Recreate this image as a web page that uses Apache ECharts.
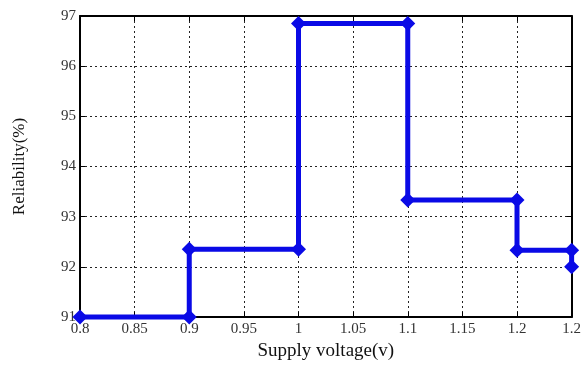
<!DOCTYPE html>
<html><head><meta charset="utf-8">
<script src="https://cdn.jsdelivr.net/npm/echarts@6/dist/echarts.min.js"></script>
<style>html,body{margin:0;padding:0;background:#fff}#c{width:584px;height:366px}</style>
</head><body><div id="c"></div>
<script>
const voltage = [0.8, 0.9, 0.9, 1.0, 1.0, 1.1, 1.1, 1.2, 1.2, 1.25, 1.25];
const reliability = [91, 91, 92.35, 92.35, 96.85, 96.85, 93.33, 93.33, 92.33, 92.33, 92.0];
const xTickLabels = ["0.8","0.85","0.9","0.95","1","1.05","1.1","1.15","1.2","1.2"];
const yTickLabels = ["91","92","93","94","95","96","97"];

const font = "Liberation Serif";
const chart = echarts.init(document.getElementById('c'));
const data = voltage.map((v, i) => [v, reliability[i]]);
const gridLine = {show: true, lineStyle: {color: '#222', type: [2, 3], width: 1}};
chart.setOption({
  animation: false,
  grid: {left: 80, right: 9, top: 16, bottom: 49},
  xAxis: [{
    type: 'value', min: 0.8, max: 1.25, interval: 0.05,
    name: 'Supply voltage(v)', nameLocation: 'middle', nameGap: 25,
    nameTextStyle: {fontFamily: font, fontSize: 19, color: '#111'},
    axisLine: {show: true, onZero: false, lineStyle: {color: '#000', width: 2}},
    axisTick: {show: true, inside: true, length: 5, lineStyle: {color: '#000'}},
    axisLabel: {fontFamily: font, fontSize: 15, color: '#333', margin: 5,
      formatter: v => xTickLabels[Math.round((v - 0.8) / 0.05)] || ''},
    splitLine: gridLine
  }, {
    type: 'value', position: 'top', min: 0.8, max: 1.25, interval: 0.05,
    axisLine: {show: true, onZero: false, lineStyle: {color: '#000', width: 2}},
    axisTick: {show: true, inside: true, length: 5, lineStyle: {color: '#000'}},
    axisLabel: {show: false}, splitLine: {show: false}
  }],
  yAxis: [{
    type: 'value', min: 91, max: 97, interval: 1,
    name: 'Reliability(%)', nameLocation: 'middle', nameGap: 52,
    nameTextStyle: {fontFamily: font, fontSize: 17, color: '#111'},
    axisLine: {show: true, onZero: false, lineStyle: {color: '#000', width: 2}},
    axisTick: {show: true, inside: true, length: 5, lineStyle: {color: '#000'}},
    axisLabel: {fontFamily: font, fontSize: 15, color: '#333', margin: 4,
      formatter: v => yTickLabels[Math.round(v - 91)] || ''},
    splitLine: gridLine
  }, {
    type: 'value', position: 'right', min: 91, max: 97, interval: 1,
    axisLine: {show: true, onZero: false, lineStyle: {color: '#000', width: 2}},
    axisTick: {show: true, inside: true, length: 5, lineStyle: {color: '#000'}},
    axisLabel: {show: false}, splitLine: {show: false}
  }],
  series: [{
    type: 'line', data: data, xAxisIndex: 0, yAxisIndex: 0,
    lineStyle: {color: '#0a0ae6', width: 5},
    itemStyle: {color: '#0a0ae6'},
    symbol: 'diamond', symbolSize: 15, showSymbol: true,
    clip: false
  }]
});
</script></body></html>
